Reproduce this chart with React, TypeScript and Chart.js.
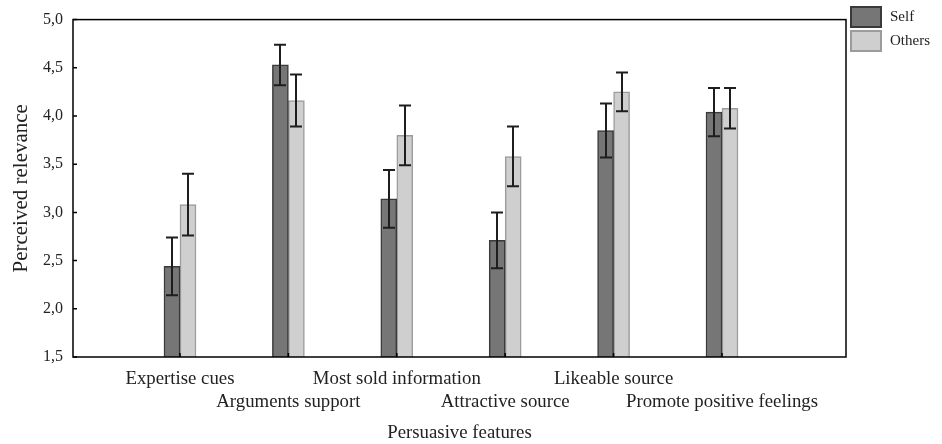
import React, { useEffect, useRef } from 'react';
import { Chart, registerables } from 'chart.js';

Chart.register(...registerables);

const CATEGORIES = [
  'Expertise cues',
  'Arguments support',
  'Most sold information',
  'Attractive source',
  'Likeable source',
  'Promote positive feelings',
];
const SERIES = ['Self', 'Others'];
const SELF = [2.44, 4.53, 3.14, 2.71, 3.85, 4.04];
const OTHERS = [3.08, 4.16, 3.8, 3.58, 4.25, 4.08];
const SELF_ERR = [0.3, 0.21, 0.3, 0.29, 0.28, 0.25];
const OTHERS_ERR = [0.32, 0.27, 0.31, 0.31, 0.2, 0.21];
const Y_TICKS = [1.5, 2.0, 2.5, 3.0, 3.5, 4.0, 4.5, 5.0];
const X_TITLE = 'Persuasive features';
const Y_TITLE = 'Perceived relevance';

const FONT = "'Liberation Serif', 'Times New Roman', serif";
const FILLS = ['#767676', '#cfcfcf'];
const BORDERS = ['#3a3a3a', '#9c9c9c'];

const decor = {
  id: 'decor',
  afterDatasetsDraw(chart: any) {
    const ctx = chart.ctx as CanvasRenderingContext2D;
    const { left, right, top, bottom } = chart.chartArea;
    const ys = chart.scales.y;
    const xs = chart.scales.x;
    const vals = [SELF, OTHERS];
    const errs = [SELF_ERR, OTHERS_ERR];
    ctx.save();
    // error bars
    ctx.strokeStyle = '#1e1e1e';
    ctx.lineWidth = 2;
    for (let d = 0; d < 2; d++) {
      const meta = chart.getDatasetMeta(d);
      meta.data.forEach((bar: any, i: number) => {
        const x = Math.round(bar.x);
        const yT = ys.getPixelForValue(vals[d][i] + errs[d][i]);
        const yB = ys.getPixelForValue(vals[d][i] - errs[d][i]);
        ctx.beginPath();
        ctx.moveTo(x, yT);
        ctx.lineTo(x, yB);
        ctx.moveTo(x - 6, yT);
        ctx.lineTo(x + 6, yT);
        ctx.moveTo(x - 6, yB);
        ctx.lineTo(x + 6, yB);
        ctx.stroke();
      });
    }
    // frame
    ctx.strokeStyle = '#000';
    ctx.lineWidth = 1.5;
    ctx.strokeRect(left, top, right - left, bottom - top);
    // inward ticks
    ctx.beginPath();
    Y_TICKS.forEach((v) => {
      const y = ys.getPixelForValue(v);
      ctx.moveTo(left, y);
      ctx.lineTo(left + 4, y);
    });
    CATEGORIES.forEach((_, i) => {
      const x = xs.getPixelForValue(i);
      ctx.moveTo(x, bottom);
      ctx.lineTo(x, bottom - 4);
    });
    ctx.stroke();
    // legend
    ctx.font = `15px ${FONT}`;
    ctx.textBaseline = 'middle';
    ctx.textAlign = 'left';
    SERIES.forEach((s, i) => {
      const by = 6 + i * 24;
      ctx.fillStyle = FILLS[i];
      ctx.fillRect(850, by, 32, 22);
      ctx.strokeStyle = BORDERS[i];
      ctx.lineWidth = 2;
      ctx.strokeRect(851, by + 1, 30, 20);
      ctx.fillStyle = '#222';
      ctx.fillText(s, 890, by + 11);
    });
    ctx.restore();
  },
};

export default function App() {
  const ref = useRef<HTMLCanvasElement | null>(null);
  useEffect(() => {
    if (!ref.current) return;
    const chart = new Chart(ref.current, {
      type: 'bar',
      data: {
        datasets: [
          {
            label: SERIES[0],
            data: SELF.map((v, i) => ({ x: i, y: v })),
            backgroundColor: FILLS[0],
            borderColor: BORDERS[0],
            borderWidth: 1.5,
            barThickness: 16,
          },
          {
            label: SERIES[1],
            data: OTHERS.map((v, i) => ({ x: i, y: v })),
            backgroundColor: FILLS[1],
            borderColor: BORDERS[1],
            borderWidth: 1.5,
            barThickness: 16,
          },
        ],
      },
      options: {
        animation: false,
        responsive: true,
        maintainAspectRatio: false,
        layout: { padding: { top: 19, right: 96, bottom: 0, left: 0 } },
        plugins: { legend: { display: false }, tooltip: { enabled: false } },
        scales: {
          x: {
            type: 'linear',
            offset: false,
            min: -0.987,
            max: 6.144,
            grid: { display: false, drawTicks: false, offset: false },
            border: { display: false },
            afterBuildTicks: (scale: any) => {
              scale.ticks = CATEGORIES.map((_, i) => ({ value: i }));
            },
            afterFit: (scale: any) => {
              scale.height = 87;
            },
            ticks: {
              autoSkip: false,
              maxRotation: 0,
              minRotation: 0,
              padding: 11,
              color: '#222',
              font: { family: FONT, size: 18.8 },
              callback: (value: any) => {
                const i = Math.round(Number(value));
                const lab = CATEGORIES[i] ?? '';
                return i % 2 === 0 ? lab : ['', lab];
              },
            },
            title: {
              display: true,
              text: X_TITLE,
              color: '#222',
              font: { family: FONT, size: 18.8 },
              padding: { top: 0, bottom: 0 },
            },
          },
          y: {
            type: 'linear',
            min: 1.5,
            max: 5.0,
            grid: { display: false, drawTicks: false },
            border: { display: false },
            afterBuildTicks: (scale: any) => {
              scale.ticks = Y_TICKS.map((v) => ({ value: v }));
            },
            afterFit: (scale: any) => {
              scale.width = 73;
            },
            ticks: {
              padding: 10,
              color: '#222',
              font: { family: FONT, size: 16 },
              callback: (value: any) => Number(value).toFixed(1).replace('.', ','),
            },
            title: {
              display: true,
              text: Y_TITLE,
              color: '#222',
              font: { family: FONT, size: 21 },
              padding: { top: 9, bottom: 0 },
            },
          },
        },
      },
      plugins: [decor],
    } as any);
    return () => chart.destroy();
  }, []);
  return (
    <div style={{ position: 'absolute', left: 0, top: 0, width: 942, height: 444, background: '#fff' }}>
      <canvas ref={ref} />
    </div>
  );
}
